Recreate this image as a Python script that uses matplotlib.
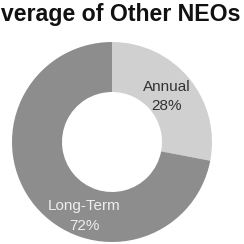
import matplotlib
matplotlib.use("Agg")
import matplotlib.pyplot as plt

labels = ["Annual", "Long-Term"]
shares = [28, 72]
colors = ["#d0d0d0", "#8d8d8d"]
title = "Coverage of Other NEOs"

W = H = 244
fig = plt.figure(figsize=(W / 100, H / 100), dpi=100)
plt.rcParams["font.family"] = ["Liberation Sans", "DejaVu Sans"]

# donut: center ~ (112, 142) px, outer radius ~100 px
cx, cy, r = 112, 142, 100
ax = fig.add_axes([(cx - r) / W, 1 - (cy + r) / H, 2 * r / W, 2 * r / H])
ax.pie(shares, colors=colors, startangle=90, counterclock=False, radius=1,
       wedgeprops=dict(width=0.5, edgecolor="none"))
ax.set_xlim(-1, 1)
ax.set_ylim(-1, 1)
ax.set_aspect("equal")
ax.axis("off")

# labels placed in pixel coords converted to data units
def px(x, y):
    return (x - cx) / r, (cy - y) / r

ax.text(*px(167, 87), labels[0], ha="center", va="center",
        fontsize=11, color="#333333")
ax.text(*px(166, 106), f"{shares[0]}%", ha="center", va="center",
        fontsize=11, color="#333333")
ax.text(*px(84, 206), labels[1], ha="center", va="center",
        fontsize=11, color="#eeeeee")
ax.text(*px(84, 226), f"{shares[1]}%", ha="center", va="center",
        fontsize=11, color="#eeeeee")

# title is cropped on the left in the reference
fig.text(240 / W, 1 - 14 / H, title, ha="right", va="center",
         fontsize=16.7, fontweight="bold", color="#111111")

fig.savefig("out.png", dpi=100)
